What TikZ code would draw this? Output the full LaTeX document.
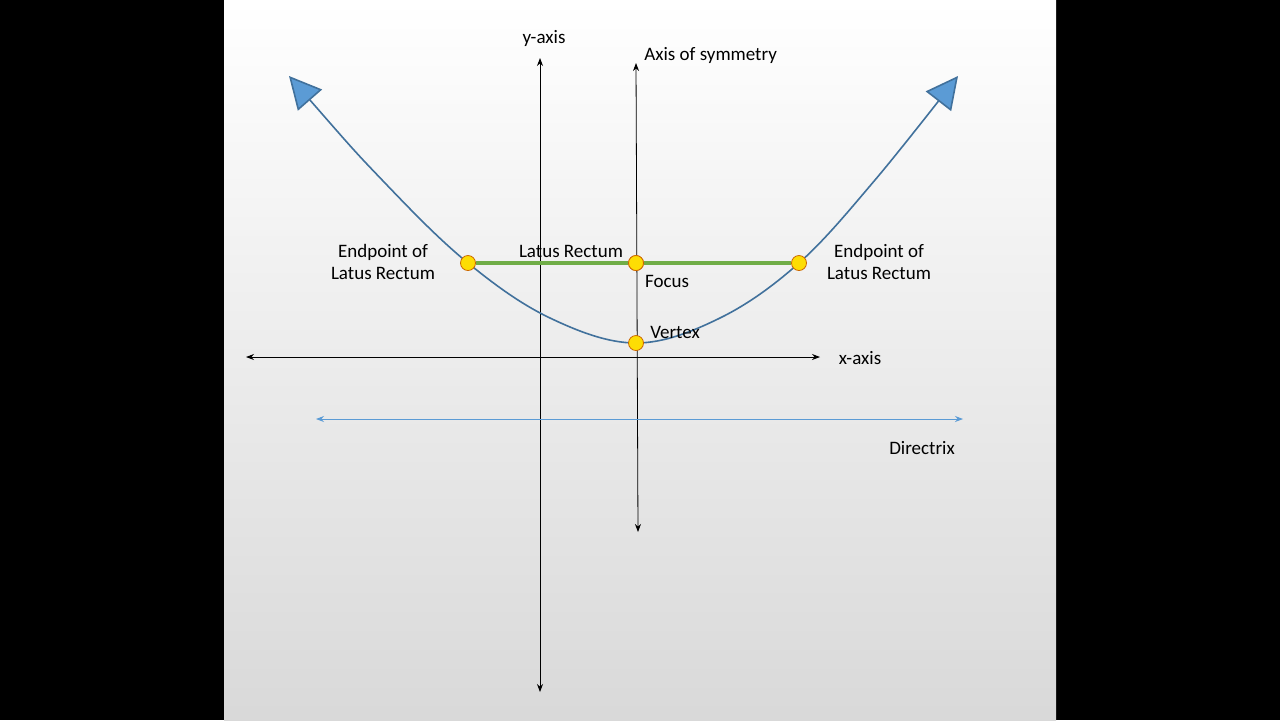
\documentclass[tikz,border=0pt]{standalone}
\usepackage{fontspec}
\setmainfont{Carlito}
\usetikzlibrary{arrows.meta}
\definecolor{curveblue}{HTML}{41719C}
\definecolor{tipblue}{HTML}{5B9BD5}
\definecolor{lrgreen}{HTML}{70AD47}
\begin{document}
\begin{tikzpicture}[x=0.5pt,y=-0.5pt,font=\fontsize{9.5}{11}\selectfont]
\tikzstyle{pt}=[circle, minimum size=7.5pt, inner sep=0pt, draw=orange!80!black, fill=yellow!80!orange]
\tikzstyle{ax}=[black, thin, {Stealth[length=4pt]}-{Stealth[length=4pt]}]
\tikzstyle{lbl}=[inner sep=1pt, align=center]
\useasboundingbox (0,0) rectangle (1280,720);
\fill[black] (0,0) rectangle (1280,720);
\shade[top color=white, bottom color=black!15] (224,0) rectangle (1056,720);
% axes
\coordinate (yt) at (540,58); \coordinate (yb) at (540,692);
\coordinate (st) at (636,63); \coordinate (sb) at (638,532);
\coordinate (xl) at (246,357); \coordinate (xr) at (820,357);
\coordinate (dl) at (316,419); \coordinate (dr) at (963,419);
\draw[ax] (yt) -- (yb);
\draw[ax] (st) -- (sb);
\draw[ax] (xl) -- (xr);
\draw[ax, color=tipblue] (dl) -- (dr);
% parabola
\draw[color=curveblue, thick, {Triangle[length=16pt,width=16pt,fill=tipblue]}-{Triangle[length=16pt,width=16pt,fill=tipblue]}]
  plot[smooth, tension=0.6] coordinates {(289,76) (385,183) (468,263) (550,318) (636,343) (720,318) (799,263) (875,180) (958,76)};
% points
\node[pt] (el) at (468,263) {};
\node[pt] (f) at (636,263) {};
\node[pt] (er) at (799,263) {};
\node[pt] (v) at (636,343) {};
\draw[lrgreen, line width=1.8pt] (el) -- (f) -- (er);
\node[pt] at (f) {};
% labels
\node[lbl] (ly) at (544,38) {y-axis};
\node[lbl, anchor=west] (ls) at (642,55) {Axis of symmetry};
\node[lbl] (lel) at (383,262) {Endpoint of\\Latus Rectum};
\node[lbl] (ler) at (879,262) {Endpoint of\\Latus Rectum};
\node[lbl] (llr) at (571,251) {Latus Rectum};
\node[lbl] (lf) at (667,281) {Focus};
\node[lbl] (lv) at (675,332) {Vertex};
\node[lbl] (lx) at (860,358) {x-axis};
\node[lbl] (ld) at (922,448) {Directrix};
\end{tikzpicture}
\end{document}
